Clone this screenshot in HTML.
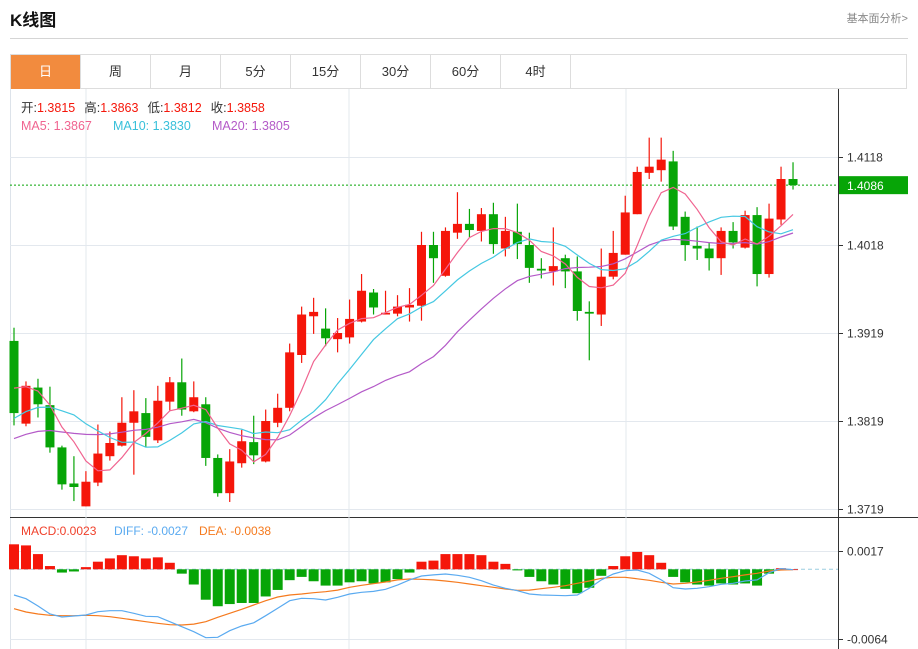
<!DOCTYPE html>
<html><head><meta charset="utf-8">
<style>
body{margin:0;width:918px;height:649px;background:#fff;font-family:"Liberation Sans","Noto Sans CJK SC",sans-serif;overflow:hidden;position:relative}
.title{position:absolute;left:10px;top:6px;font-size:17px;font-weight:bold;color:#111}
.more{position:absolute;right:10px;top:10px;font-size:11px;color:#888}
.rule{position:absolute;left:10px;top:38px;width:898px;height:1px;background:#d5d5d5}
.tabs{position:absolute;left:10px;top:54px;width:897px;height:35px;border:1px solid #ddd;box-sizing:border-box;display:flex}
.tab{width:70px;height:34px;line-height:34px;text-align:center;font-size:13px;color:#333;border-right:1px solid #ddd;box-sizing:border-box}
.tab.on{background:#f28b3e;color:#fff}
svg{position:absolute;left:0;top:0}
</style></head><body>
<div class="title">K线图</div>
<div class="more">基本面分析&gt;</div>
<div class="rule"></div>
<div class="tabs">
<div class="tab on">日</div>
<div class="tab">周</div>
<div class="tab">月</div>
<div class="tab">5分</div>
<div class="tab">15分</div>
<div class="tab">30分</div>
<div class="tab">60分</div>
<div class="tab">4时</div>
</div>
<svg id="chart" width="918" height="649"></svg>
<script>
const opens=[1.3909,1.3815,1.3856,1.3836,1.3788,1.3747,1.3721,1.3748,1.3778,1.3790,1.3816,1.3827,1.3796,1.3840,1.3862,1.3829,1.3837,1.3776,1.3736,1.3770,1.3794,1.3772,1.3816,1.3833,1.3893,1.3937,1.3923,1.3911,1.3913,1.3931,1.3964,1.3939,1.3940,1.3947,1.3949,1.4018,1.3983,1.4032,1.4042,1.4034,1.4053,1.4014,1.4033,1.4018,1.3991,1.3988,1.4003,1.3988,1.3942,1.3939,1.3982,1.4007,1.4053,1.4100,1.4103,1.4113,1.4050,1.4017,1.4014,1.4003,1.4034,1.4015,1.4052,1.3985,1.4047,1.4093];
const highs=[1.3924,1.3863,1.3866,1.3857,1.3790,1.3778,1.3761,1.3814,1.3806,1.3845,1.3853,1.3844,1.3858,1.3868,1.3889,1.3863,1.3845,1.3780,1.3786,1.3808,1.3824,1.3831,1.3849,1.3906,1.3948,1.3958,1.3946,1.3935,1.3956,1.3985,1.3968,1.3966,1.3961,1.3969,1.4033,1.4033,1.4038,1.4078,1.4059,1.4060,1.4066,1.4050,1.4065,1.4032,1.4003,1.4038,1.4007,1.4005,1.3954,1.4014,1.4034,1.4074,1.4107,1.4140,1.4140,1.4125,1.4056,1.4039,1.4021,1.4038,1.4044,1.4057,1.4061,1.4065,1.4107,1.4112];
const lows=[1.3813,1.3812,1.3822,1.3782,1.3740,1.3727,1.3721,1.3744,1.3773,1.3789,1.3757,1.3788,1.3793,1.3830,1.3824,1.3828,1.3767,1.3732,1.3726,1.3765,1.3769,1.3771,1.3811,1.3829,1.3884,1.3917,1.3903,1.3896,1.3906,1.3930,1.3939,1.3939,1.3937,1.3931,1.3932,1.3975,1.3982,1.4025,1.4027,1.4022,1.4008,1.4005,1.4002,1.3975,1.3980,1.3972,1.3969,1.3932,1.3887,1.3926,1.3979,1.4007,1.4053,1.4093,1.4090,1.4035,1.4000,1.4001,1.3989,1.3984,1.4014,1.4014,1.3971,1.3981,1.4041,1.4081];
const closes=[1.3827,1.3858,1.3837,1.3788,1.3746,1.3743,1.3749,1.3781,1.3793,1.3816,1.3829,1.3800,1.3841,1.3862,1.3831,1.3845,1.3776,1.3736,1.3772,1.3795,1.3779,1.3818,1.3833,1.3896,1.3939,1.3942,1.3912,1.3918,1.3934,1.3966,1.3947,1.3941,1.3948,1.3950,1.4018,1.4003,1.4034,1.4042,1.4035,1.4053,1.4019,1.4034,1.4019,1.3992,1.3989,1.3994,1.3988,1.3943,1.3940,1.3982,1.4009,1.4055,1.4101,1.4107,1.4115,1.4039,1.4018,1.4014,1.4003,1.4034,1.4021,1.4052,1.3985,1.4048,1.4093,1.4086];
const priorCloses=[1.3760,1.3770,1.3768,1.3780,1.3775,1.3772,1.3785,1.3778,1.3776,1.3786,1.3780,1.3790,1.3784,1.3788,1.3790,1.3850,1.3862,1.3868,1.3870];
const macdBars=[0.0023,0.0022,0.0014,0.0003,-0.0003,-0.0002,0.0002,0.0007,0.0010,0.0013,0.0012,0.0010,0.0011,0.0006,-0.0004,-0.0014,-0.0028,-0.0034,-0.0032,-0.0031,-0.0031,-0.0025,-0.0019,-0.0010,-0.0007,-0.0011,-0.0015,-0.0015,-0.0012,-0.0011,-0.0013,-0.0012,-0.0009,-0.0003,0.0007,0.0008,0.0014,0.0014,0.0014,0.0013,0.0007,0.0005,-0.0001,-0.0007,-0.0011,-0.0014,-0.0018,-0.0022,-0.0017,-0.0006,0.0003,0.0012,0.0016,0.0013,0.0006,-0.0007,-0.0012,-0.0014,-0.0015,-0.0013,-0.0014,-0.0013,-0.0015,-0.0004,0.0001,0.0000];
const diffVals=[-0.00237,-0.00271,-0.00338,-0.00411,-0.00439,-0.00430,-0.00421,-0.00390,-0.00381,-0.00381,-0.00405,-0.00433,-0.00436,-0.00482,-0.00528,-0.00574,-0.00630,-0.00626,-0.00565,-0.00522,-0.00492,-0.00427,-0.00359,-0.00289,-0.00267,-0.00271,-0.00283,-0.00258,-0.00227,-0.00212,-0.00203,-0.00184,-0.00145,-0.00098,-0.00062,-0.00052,-0.00043,-0.00055,-0.00074,-0.00105,-0.00145,-0.00175,-0.00197,-0.00227,-0.00237,-0.00239,-0.00243,-0.00237,-0.00175,-0.00098,-0.00043,-0.00013,-0.00006,-0.00037,-0.00098,-0.00169,-0.00181,-0.00175,-0.00160,-0.00138,-0.00129,-0.00108,-0.00098,-0.00031,0.00006,-0.00004];
const deaVals=[-0.00363,-0.00393,-0.00411,-0.00423,-0.00427,-0.00427,-0.00423,-0.00427,-0.00436,-0.00451,-0.00467,-0.00482,-0.00497,-0.00510,-0.00513,-0.00504,-0.00482,-0.00442,-0.00405,-0.00368,-0.00329,-0.00289,-0.00255,-0.00237,-0.00227,-0.00215,-0.00206,-0.00191,-0.00166,-0.00147,-0.00133,-0.00117,-0.00098,-0.00089,-0.00092,-0.00098,-0.00108,-0.00120,-0.00135,-0.00151,-0.00166,-0.00181,-0.00193,-0.00191,-0.00179,-0.00166,-0.00151,-0.00129,-0.00108,-0.00083,-0.00074,-0.00074,-0.00087,-0.00101,-0.00120,-0.00135,-0.00129,-0.00117,-0.00101,-0.00083,-0.00068,-0.00052,-0.00037,-0.00016,-0.00006,-0.00004];
const priceTicks=[1.4118,1.4018,1.3919,1.3819,1.3719];
const priceTickY=[1.4118,1.4018,1.3918,1.3818,1.3718];
const macdTicks=["0.0017","-0.0064"];
const macdTickVals=[0.0017,-0.0064];
const lastPrice=1.4086;

const svg=document.getElementById('chart');
const NS='http://www.w3.org/2000/svg';
const RED='#f5160a',GREEN='#07a507';
function xAt(i){return 14+i*11.985;}
function yP(p){return 157+(1.4118-p)*8800;}
function yM(v){return 569.3-v*10864;}
function el(tag,attrs,parent){const e=document.createElementNS(NS,tag);for(const k in attrs)e.setAttribute(k,attrs[k]);(parent||svg).appendChild(e);return e;}
function txt(s,x,y,fill,size,anchor){const t=el('text',{x:x,y:y,fill:fill,'font-size':size||12,'text-anchor':anchor||'start','font-family':'"Liberation Sans","Noto Sans CJK SC",sans-serif'});t.textContent=s;return t;}

// frame & grid
el('line',{x1:10.5,y1:89,x2:10.5,y2:649,stroke:'#dde3ea'});
el('line',{x1:838.5,y1:89,x2:838.5,y2:649,stroke:'#333'});
el('line',{x1:10,y1:517.5,x2:918,y2:517.5,stroke:'#333'});
[86,349,626].forEach(x=>{el('line',{x1:x,y1:89,x2:x,y2:649,stroke:'#e3e8ee'});});
priceTickY.forEach((p,k)=>{const y=Math.round(yP(p))+0.5;
 const g=el('line',{x1:10,y1:y,x2:838,y2:y,stroke:'#e3e8ee'});
 
 el('line',{x1:838,y1:y,x2:843,y2:y,stroke:'#333'});
 const t=txt(priceTicks[k].toFixed(4),847,y+4,'#333',12);
 });
macdTickVals.forEach((v,k)=>{const y=Math.round(yM(v))+0.5;
 el('line',{x1:10,y1:y,x2:838,y2:y,stroke:'#e3e8ee'});
 el('line',{x1:838,y1:y,x2:843,y2:y,stroke:'#333'});
 const t=txt(macdTicks[k],847,y+4,'#333',12);
 });
// zero line
const zl=el('line',{x1:10,y1:yM(0),x2:838,y2:yM(0),stroke:'#9ccde0','stroke-dasharray':'4,3'});


// last price line
const ly=yP(lastPrice);
const lp=el('line',{x1:10,y1:ly,x2:838,y2:ly,stroke:GREEN,'stroke-dasharray':'2,2'});

const lb=el('rect',{x:839,y:ly-9,width:69,height:18,fill:GREEN});

txt(lastPrice.toFixed(4),847,ly+5,'#fff',12);

// candles
for(let i=0;i<closes.length;i++){
 const up=closes[i]>=opens[i];const c=up?RED:GREEN;const x=xAt(i);
 const w=el('line',{x1:x,y1:yP(highs[i]),x2:x,y2:yP(lows[i]),stroke:c,'stroke-width':1.2});
 
 const t=yP(Math.max(opens[i],closes[i])),b=yP(Math.min(opens[i],closes[i]));
 const r=el('rect',{x:x-4.5,y:t,width:9,height:Math.max(1.5,b-t),fill:c});
 
}
// moving averages
const all=priorCloses.concat(closes);const P=priorCloses.length;
function ma(n){const out=[];for(let i=0;i<closes.length;i++){let s=0;for(let k=0;k<n;k++)s+=all[P+i-k];out.push(s/n);}return out;}
function poly(vals,fy,color,name){const pts=vals.map((v,i)=>xAt(i).toFixed(1)+','+fy(v).toFixed(1)).join(' ');
 const p=el('polyline',{points:pts,fill:'none',stroke:color,'stroke-width':1.2});
 }
poly(ma(20),yP,'#b45ac8','ma20-line');
poly(ma(10),yP,'#45c8e2','ma10-line');
poly(ma(5),yP,'#f06490','ma5-line');

// MACD
for(let i=0;i<macdBars.length;i++){const v=macdBars[i];const y0=yM(0),y1=yM(v);
 const r=el('rect',{x:xAt(i)-5,y:Math.min(y0,y1),width:10,height:Math.max(0.8,Math.abs(y1-y0)),fill:v>=0?RED:GREEN});
 }
poly(deaVals,yM,'#f57a1e','dea-line');
poly(diffVals,yM,'#5aaaf0','diff-line');

// legends
const L1=[['开:','#333'],['1.3815',RED],[' 高:','#333'],['1.3863',RED],[' 低:','#333'],['1.3812',RED],[' 收:','#333'],['1.3858',RED]];
const t1=el('text',{x:21,y:112,'font-size':12.5,'font-family':'"Liberation Sans","Noto Sans CJK SC",sans-serif'});

let first=true;L1.forEach(([s,c])=>{const sp=el('tspan',{fill:c,dx:(s.startsWith(' ')?9:0)},t1);sp.textContent=s.trim();});
const L2=[['MA5: 1.3867','#f06490',21],['MA10: 1.3830','#38c0da',113],['MA20: 1.3805','#b45ac8',212]];
L2.forEach(([s,c,x])=>{const t=txt(s,x,130,c,12.5);});
const L3=[['MACD:0.0023','#f0402a',21],['DIFF: -0.0027','#5aaaf0',114],['DEA: -0.0038','#f57a1e',199]];
L3.forEach(([s,c,x])=>{const t=txt(s,x,535,c,12);});
</script>
</body></html>
